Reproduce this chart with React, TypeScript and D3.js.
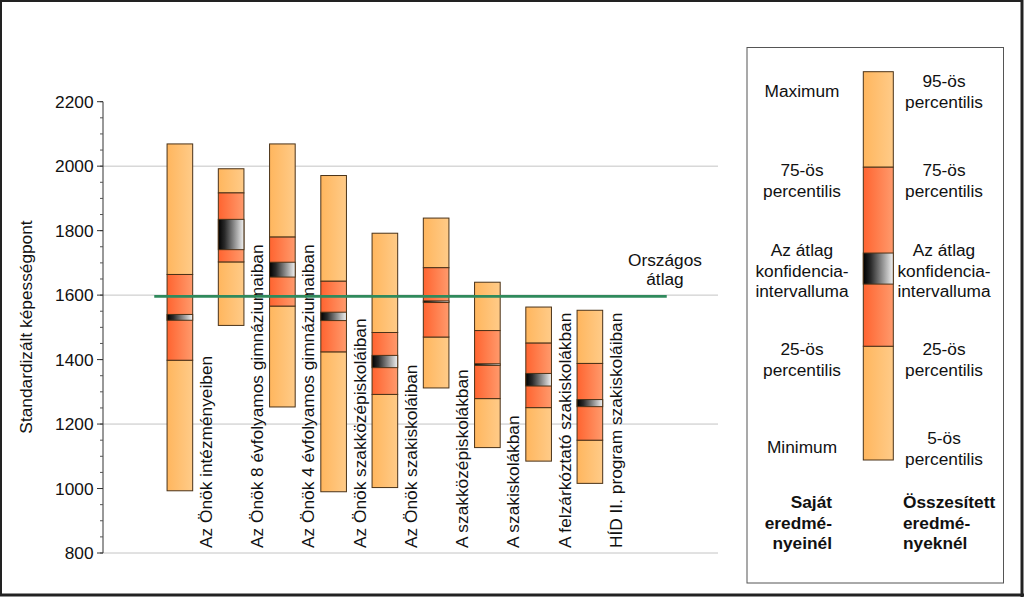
import React from "react";
import * as d3 from "d3";

const categories = [
  "Az Önök intézményeiben",
  "Az Önök 8 évfolyamos gimnáziumaiban",
  "Az Önök 4 évfolyamos gimnáziumaiban",
  "Az Önök szakközépiskoláiban",
  "Az Önök szakiskoláiban",
  "A szakközépiskolákban",
  "A szakiskolákban",
  "A felzárkóztató szakiskolákban",
  "HÍD II. program szakiskoláiban",
];
const maxVals = [2069, 1992, 2069, 1971, 1792, 1839, 1640, 1563, 1553];
const q75Vals = [1664, 1917, 1780, 1643, 1484, 1685, 1490, 1451, 1388];
const ciHighVals = [1540, 1835, 1702, 1547, 1413, 1582, 1387, 1357, 1276];
const ciLowVals = [1522, 1741, 1656, 1521, 1375, 1577, 1382, 1318, 1254];
const q25Vals = [1398, 1703, 1566, 1424, 1292, 1470, 1279, 1251, 1150];
const minVals = [993, 1506, 1253, 990, 1003, 1312, 1127, 1085, 1016];
const nationalMean = 1596;

const yTicks = [800, 1000, 1200, 1400, 1600, 1800, 2000, 2200];
const gridValues = [800, 1200, 1600, 2000];

// legend sample box (relative units 0..100, top = 100)
const legendSample = [100, 75.4, 53.3, 45.3, 29.3, 0];

const leftLegend = [
  { lines: ["Maximum"], base: 97 },
  { lines: ["75-ös", "percentilis"], base: 176 },
  { lines: ["Az átlag", "konfidencia-", "intervalluma"], base: 256 },
  { lines: ["25-ös", "percentilis"], base: 355 },
  { lines: ["Minimum"], base: 453 },
];
const rightLegend = [
  { lines: ["95-ös", "percentilis"], base: 87 },
  { lines: ["75-ös", "percentilis"], base: 176 },
  { lines: ["Az átlag", "konfidencia-", "intervalluma"], base: 256 },
  { lines: ["25-ös", "percentilis"], base: 355 },
  { lines: ["5-ös", "percentilis"], base: 444 },
];
const leftTitle = ["Saját", "eredmé-", "nyeinél"];
const rightTitle = ["Összesített", "eredmé-", "nyeknél"];

const FONT = "'Liberation Sans', Arial, sans-serif";
const FS = 17.3;

export default function App() {
  const W = 1024;
  const H = 597;
  const y = d3.scaleLinear().domain([800, 2200]).range([553, 101.7]);
  const slots = d3.range(12).map(String);
  const x = d3
    .scaleBand<string>()
    .domain(slots)
    .range([103, 718])
    .paddingInner(0.5)
    .paddingOuter(0.25);
  const bw = x.bandwidth();
  const step = x.step();
  const slotOf = (i: number) => String(i + 1);
  const minorTicks = d3.range(800, 2201, 50);

  const ly = d3.scaleLinear().domain([0, 100]).range([460, 71.7]);
  const lx = 863.3;
  const lw = 30;

  const stroke = "#4a3218";
  const lh = 20.5;

  const segs = (
    key: string,
    x0: number,
    w: number,
    ys: number[]
  ) => {
    const [top, r1, c1, c2, r2, bot] = ys;
    return (
      <g key={key}>
        <rect x={x0} y={top} width={w} height={r1 - top} fill="url(#gOrange)" stroke={stroke} strokeWidth={1} />
        <rect x={x0} y={r2} width={w} height={bot - r2} fill="url(#gOrange)" stroke={stroke} strokeWidth={1} />
        <rect x={x0} y={r1} width={w} height={r2 - r1} fill="url(#gRed)" stroke={stroke} strokeWidth={1} />
        <rect x={x0} y={c1} width={w} height={Math.max(c2 - c1, 0.5)} fill="url(#gCI)" stroke={stroke} strokeWidth={1} />
      </g>
    );
  };

  return (
    <svg
      width={W}
      height={H}
      style={{ position: "absolute", left: 0, top: 0, background: "#fff" }}
      fontFamily={FONT}
    >
      <defs>
        <linearGradient id="gOrange" x1="0" x2="1" y1="0" y2="0">
          <stop offset="0" stopColor="#FFB65E" />
          <stop offset="1" stopColor="#FFCB88" />
        </linearGradient>
        <linearGradient id="gRed" x1="0" x2="1" y1="0" y2="0">
          <stop offset="0" stopColor="#FF6430" />
          <stop offset="1" stopColor="#FF9A6C" />
        </linearGradient>
        <linearGradient id="gCI" x1="0" x2="1" y1="0" y2="0">
          <stop offset="0" stopColor="#000000" />
          <stop offset="0.25" stopColor="#2a2a2a" />
          <stop offset="1" stopColor="#f2f2f2" />
        </linearGradient>
      </defs>
      <rect x={0} y={0} width={W} height={H} fill="#fff" />

      {/* gridlines */}
      {gridValues.map((v) => (
        <line key={"g" + v} x1={103} x2={718} y1={y(v)} y2={y(v)} stroke="#c4c4c4" strokeWidth={1} />
      ))}

      {/* bars */}
      {categories.map((c, i) => {
        const x0 = x(slotOf(i)) as number;
        return segs("b" + i, x0, bw, [
          y(maxVals[i]),
          y(q75Vals[i]),
          y(ciHighVals[i]),
          y(ciLowVals[i]),
          y(q25Vals[i]),
          y(minVals[i]),
        ]);
      })}

      {/* category labels */}
      {categories.map((c, i) => {
        const cx = (x(slotOf(i)) as number) + bw / 2 + 32;
        return (
          <text
            key={"l" + i}
            transform={`translate(${cx},548) rotate(-90)`}
            fontSize={FS}
            textAnchor="start"
            fill="#111"
          >
            {c}
          </text>
        );
      })}

      {/* national average line */}
      <line
        x1={(x("1") as number) - (step - bw) / 2}
        x2={(x("10") as number) + bw + (step - bw) / 2}
        y1={y(nationalMean)}
        y2={y(nationalMean)}
        stroke="#2f8a5c"
        strokeWidth={2.6}
      />
      <text x={665} y={266} fontSize={FS} textAnchor="middle" fill="#111">Országos</text>
      <text x={665} y={285} fontSize={FS} textAnchor="middle" fill="#111">átlag</text>

      {/* y axis */}
      <line x1={103} x2={103} y1={y(2200)} y2={y(800)} stroke="#333" strokeWidth={1} />
      {minorTicks.map((v) => (
        <line key={"m" + v} x1={100} x2={103} y1={y(v)} y2={y(v)} stroke="#555" strokeWidth={1} />
      ))}
      {yTicks.map((v) => (
        <g key={"t" + v}>
          <line x1={97} x2={103} y1={y(v)} y2={y(v)} stroke="#333" strokeWidth={1} />
          <text x={93.5} y={y(v)} dy="0.35em" fontSize={FS} textAnchor="end" fill="#111">
            {v}
          </text>
        </g>
      ))}
      <text
        transform="translate(32,327) rotate(-90)"
        fontSize={FS}
        textAnchor="middle"
        fill="#111"
      >
        Standardizált képességpont
      </text>

      {/* legend */}
      <rect x={747} y={47.5} width={256.5} height={535.5} fill="#fff" stroke="#555" strokeWidth={1} />
      {segs("legend", lx, lw, legendSample.map((v) => ly(v)))}
      {leftLegend.map((it, k) =>
        it.lines.map((t, j) => (
          <text key={`ll${k}-${j}`} x={802} y={it.base + j * lh} fontSize={FS} textAnchor="middle" fill="#111">
            {t}
          </text>
        ))
      )}
      {rightLegend.map((it, k) =>
        it.lines.map((t, j) => (
          <text key={`rl${k}-${j}`} x={944} y={it.base + j * lh} fontSize={FS} textAnchor="middle" fill="#111">
            {t}
          </text>
        ))
      )}
      {leftTitle.map((t, j) => (
        <text key={"lt" + j} x={832} y={508 + j * lh} fontSize={FS} fontWeight="bold" textAnchor="end" fill="#111">
          {t}
        </text>
      ))}
      {rightTitle.map((t, j) => (
        <text key={"rt" + j} x={903} y={508 + j * lh} fontSize={FS} fontWeight="bold" textAnchor="start" fill="#111">
          {t}
        </text>
      ))}

      {/* outer frame */}
      <rect x={1} y={1} width={W - 3} height={H - 3} fill="none" stroke="#222" strokeWidth={2} />
      <line x1={W - 2} x2={W - 2} y1={0} y2={H} stroke="#222" strokeWidth={3} />
      <line x1={0} x2={W} y1={H - 2} y2={H - 2} stroke="#222" strokeWidth={3} />
    </svg>
  );
}
